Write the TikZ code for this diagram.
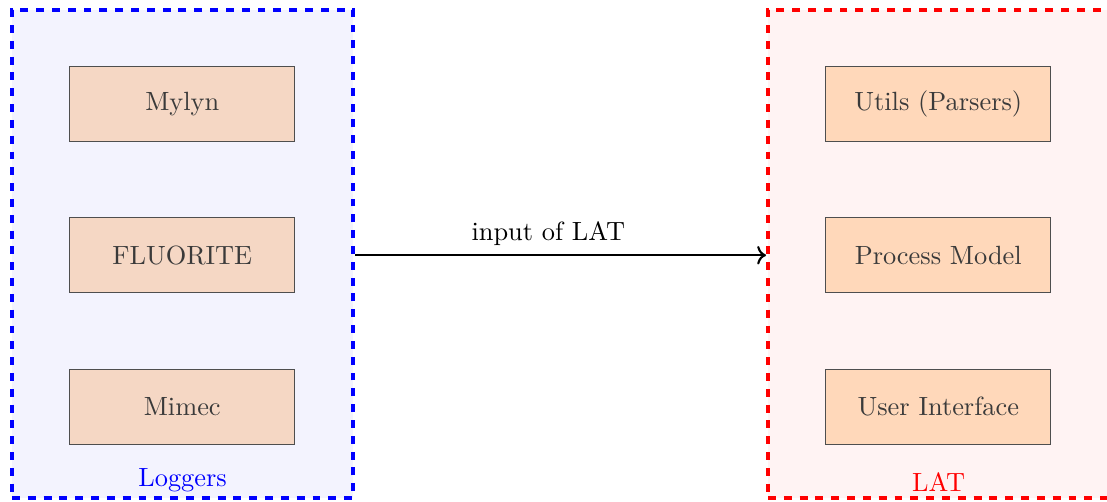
\documentclass[tikz,border=0pt]{standalone}
\usepackage{xcolor}
\usepackage{tikz}
\usetikzlibrary{positioning,arrows.meta}
\definecolor{logfill}{RGB}{245,215,196}
\definecolor{latfill}{RGB}{255,216,186}
\definecolor{logbg}{RGB}{243,243,254}
\definecolor{latbg}{RGB}{255,243,243}
\definecolor{boxink}{RGB}{58,58,58}

\begin{document}
\begin{tikzpicture}[x=1cm,y=1cm,
  part/.style={draw=boxink!90,text=boxink,minimum width=3cm,minimum height=1cm,inner sep=0pt},
  group/.style={dashed,line width=1.5pt,minimum width=4.55cm,minimum height=6.51cm,inner sep=0pt}]
\useasboundingbox (0,0) rectangle (14.76,6.693);
% groups
\node[group,draw=blue,fill=logbg] (loggers) at (2.435,3.31) {};
\node[group,draw=red,fill=latbg] (lat) at (12.515,3.31) {};
\node[text=blue] (loggerslab) at (2.435,0.29) {Loggers};
\node[text=red] (latlab) at (12.515,0.27) {LAT};
% members
\node[part,fill=logfill] (mylyn) at (2.43,5.31) {Mylyn};
\node[part,fill=logfill] (fluorite) at (2.43,3.29) {FLUORITE};
\node[part,fill=logfill] (mimec) at (2.43,1.27) {Mimec};
\node[part,fill=latfill] (utils) at (12.51,5.31) {Utils (Parsers)};
\node[part,fill=latfill] (model) at (12.51,3.29) {Process Model};
\node[part,fill=latfill] (ui) at (12.51,1.27) {User Interface};
% input
\draw[->,thick] (loggers.east|-fluorite) -- node[above,pos=0.47] {input of LAT} (lat.west|-model);
\end{tikzpicture}
\end{document}
